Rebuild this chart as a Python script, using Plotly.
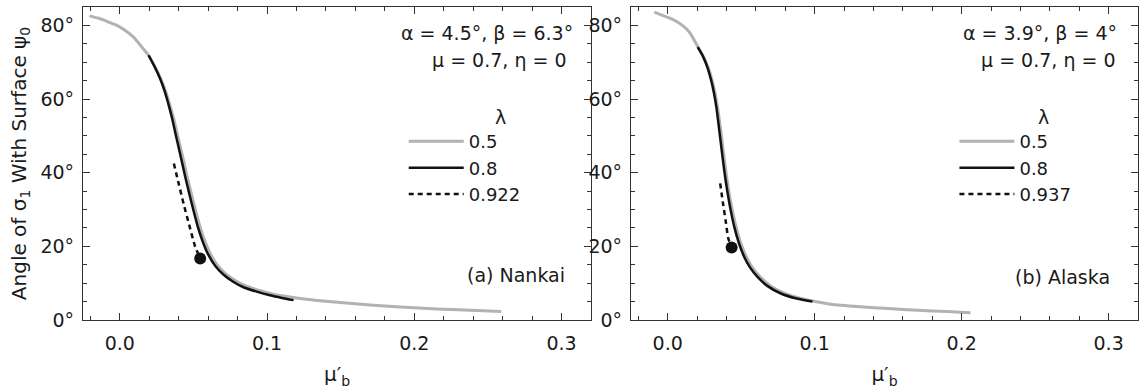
import plotly.graph_objects as go

# ---------------- data ----------------
# (a) Nankai
a_x_05 = [-0.0206, -0.015, -0.010, -0.005, -0.002, 0.003, 0.0093, 0.014, 0.0195, 0.0237,
          0.0278, 0.0311, 0.0339, 0.0365, 0.0387, 0.0409, 0.0431, 0.0456, 0.0484, 0.0514,
          0.0545, 0.0579, 0.0617, 0.0668, 0.0724, 0.0790, 0.0860, 0.0950, 0.1040, 0.1200,
          0.140, 0.160, 0.180, 0.200, 0.230, 0.259]
a_y_05 = [82.6, 82.0, 81.3, 80.5, 80.0, 78.8, 76.8, 74.6, 71.9, 68.9,
          65.5, 62.1, 58.5, 54.8, 51.0, 47.3, 43.6, 39.1, 34.6, 29.8,
          25.3, 21.3, 17.8, 14.6, 12.4, 10.6, 9.2, 8.0, 7.0, 6.0,
          5.1, 4.4, 3.8, 3.3, 2.75, 2.3]
a_x_08 = [0.0195, 0.0235, 0.0274, 0.0305, 0.0331, 0.0355, 0.0376, 0.0397, 0.0418, 0.0443,
          0.0470, 0.0500, 0.0530, 0.0563, 0.0600, 0.0650, 0.0705, 0.0770, 0.0840, 0.0930,
          0.1020, 0.1100, 0.1180]
a_y_08 = [71.9, 68.9, 65.5, 62.1, 58.5, 54.8, 51.0, 47.3, 43.6, 39.1,
          34.6, 29.8, 25.3, 21.3, 17.8, 14.6, 12.3, 10.4, 8.9, 7.7,
          6.7, 6.0, 5.4]
a_x_crit = [0.0367, 0.0400, 0.0433, 0.0470, 0.0512, 0.0546]
a_y_crit = [42.5, 37.0, 31.6, 26.0, 19.9, 16.7]
a_dot_x = [0.0546]
a_dot_y = [16.7]

# (b) Alaska
b_x_05 = [-0.0091, -0.004, 0.0045, 0.010, 0.0147, 0.0204, 0.0242, 0.0275, 0.0301, 0.0322,
          0.0339, 0.0354, 0.0370, 0.0387, 0.0402, 0.0418, 0.0441, 0.0465, 0.0498, 0.0534,
          0.0575, 0.0627, 0.0697, 0.0787, 0.0887, 0.0995, 0.111, 0.131, 0.150, 0.170,
          0.190, 0.206]
b_y_05 = [83.6, 82.8, 81.4, 80.0, 78.2, 74.3, 71.6, 68.6, 65.2, 61.6,
          57.8, 53.5, 48.5, 43.0, 38.5, 34.4, 29.5, 25.3, 20.8, 17.2,
          14.3, 11.8, 9.3, 7.35, 6.05, 5.1, 4.3, 3.6, 3.1, 2.65,
          2.3, 2.0]
b_x_08 = [0.0204, 0.0240, 0.0270, 0.0295, 0.0315, 0.0331, 0.0345, 0.0360, 0.0377, 0.0392,
          0.0408, 0.0430, 0.0453, 0.0485, 0.0520, 0.0560, 0.0611, 0.0680, 0.0770, 0.0870,
          0.0985]
b_y_08 = [74.1, 71.6, 68.6, 65.2, 61.6, 57.8, 53.5, 48.5, 43.0, 38.5,
          34.4, 29.5, 25.3, 20.8, 17.2, 14.3, 11.7, 9.2, 7.2, 5.9,
          5.0]
b_x_crit = [0.0357, 0.0375, 0.0394, 0.0412, 0.0435]
b_y_crit = [37.1, 32.0, 27.0, 22.2, 19.7]
b_dot_x = [0.0435]
b_dot_y = [19.7]

lambda_labels_a = ["0.5", "0.8", "0.922"]
lambda_labels_b = ["0.5", "0.8", "0.937"]
x_ticks = [0.0, 0.1, 0.2, 0.3]
x_tick_labels = ["0.0", "0.1", "0.2", "0.3"]
y_ticks = [0, 20, 40, 60, 80]
y_tick_labels = ["0°", "20°", "40°", "60°", "80°"]

# ---------------- styling ----------------
FONT = "DejaVu Sans"
FS = 19
TXT = "#1a1a1a"
AX = "#333333"
GRAY = "#b2b2b2"
BLACK = "#111111"

fig = go.Figure()

panels = [
    ("x", "y", "legend", lambda_labels_a, a_x_05, a_y_05, a_x_08, a_y_08, a_x_crit, a_y_crit, a_dot_x, a_dot_y),
    ("x2", "y2", "legend2", lambda_labels_b, b_x_05, b_y_05, b_x_08, b_y_08, b_x_crit, b_y_crit, b_dot_x, b_dot_y),
]
for xa, ya, lg, labs, x5, y5, x8, y8, xc, yc, dx, dy in panels:
    fig.add_trace(go.Scatter(x=x5, y=y5, mode="lines", name=labs[0], xaxis=xa, yaxis=ya, legend=lg,
                             line=dict(color=GRAY, width=3, shape="spline", smoothing=0.6)))
    fig.add_trace(go.Scatter(x=x8, y=y8, mode="lines", name=labs[1], xaxis=xa, yaxis=ya, legend=lg,
                             line=dict(color=BLACK, width=2.5, shape="spline", smoothing=0.6)))
    fig.add_trace(go.Scatter(x=xc, y=yc, mode="lines", name=labs[2], xaxis=xa, yaxis=ya, legend=lg,
                             line=dict(color=BLACK, width=2.5, dash="5px,4px", shape="spline", smoothing=0.6)))
    fig.add_trace(go.Scatter(x=dx, y=dy, mode="markers", xaxis=xa, yaxis=ya, showlegend=False,
                             marker=dict(color=BLACK, size=12)))

xcommon = dict(range=[-0.025, 0.32], tickmode="array", tickvals=x_ticks, ticktext=x_tick_labels,
               ticks="inside", ticklen=7, tickcolor=AX, tickwidth=1.2,
               showline=True, linecolor=AX, linewidth=1.2, mirror="allticks",
               showgrid=False, zeroline=False,
               minor=dict(dtick=0.02, tick0=0, ticks="inside", ticklen=4, tickcolor=AX, tickwidth=1,
                          showgrid=False),
               tickfont=dict(family=FONT, size=FS, color=TXT), ticklabelstandoff=6,
               title=dict(text="μ′<sub>b</sub>", font=dict(family=FONT, size=FS + 1, color=TXT), standoff=14))
ycommon = dict(range=[0, 85], tickmode="array", tickvals=y_ticks, ticktext=y_tick_labels,
               ticks="inside", ticklen=7, tickcolor=AX, tickwidth=1.2,
               showline=True, linecolor=AX, linewidth=1.2, mirror="allticks",
               showgrid=False, zeroline=False,
               minor=dict(dtick=5, tick0=0, ticks="inside", ticklen=4, tickcolor=AX, tickwidth=1,
                          showgrid=False),
               tickfont=dict(family=FONT, size=FS, color=TXT), ticklabelstandoff=4)

LEGFS = 18
fig.update_layout(
    width=1139, height=392,
    margin=dict(l=83, r=1, t=7, b=72),
    paper_bgcolor="white", plot_bgcolor="white",
    font=dict(family=FONT, size=FS, color=TXT),
    xaxis=dict(domain=[0, 0.4815], anchor="y", **xcommon),
    xaxis2=dict(domain=[0.5194, 1], anchor="y2", **xcommon),
    yaxis=dict(anchor="x", title=dict(text="Angle of σ<sub>1</sub> With Surface ψ<sub>0</sub>",
                                      font=dict(family=FONT, size=FS + 1, color=TXT), standoff=8),
               **ycommon),
    yaxis2=dict(anchor="x2", **ycommon),
    legend=dict(x=0.304, y=0.629, xanchor="left", yanchor="top", bgcolor="rgba(0,0,0,0)",
                font=dict(family=FONT, size=LEGFS, color=TXT), itemwidth=55, traceorder="normal",
                tracegroupgap=0),
    legend2=dict(x=0.826, y=0.629, xanchor="left", yanchor="top", bgcolor="rgba(0,0,0,0)",
                 font=dict(family=FONT, size=LEGFS, color=TXT), itemwidth=55, traceorder="normal",
                 tracegroupgap=0),
    showlegend=True,
)

ann = [
    (0.4664, 0.917, "α = 4.5°, β = 6.3°", "right"),
    (0.4607, 0.8307, "μ = 0.7, η = 0", "right"),
    (0.396, 0.6486, "λ", "center"),
    (0.4588, 0.1438, "(a) Nankai", "right"),
    (0.982, 0.917, "α = 3.9°, β = 4°", "right"),
    (0.981, 0.8307, "μ = 0.7, η = 0", "right"),
    (0.910, 0.6486, "λ", "center"),
    (0.9754, 0.1374, "(b) Alaska", "right"),
]
for x, y, t, anc in ann:
    fig.add_annotation(x=x, y=y, xref="paper", yref="paper", text=t, showarrow=False,
                       xanchor=anc, yanchor="middle", font=dict(family=FONT, size=FS, color=TXT))

fig.write_html("out.html")
